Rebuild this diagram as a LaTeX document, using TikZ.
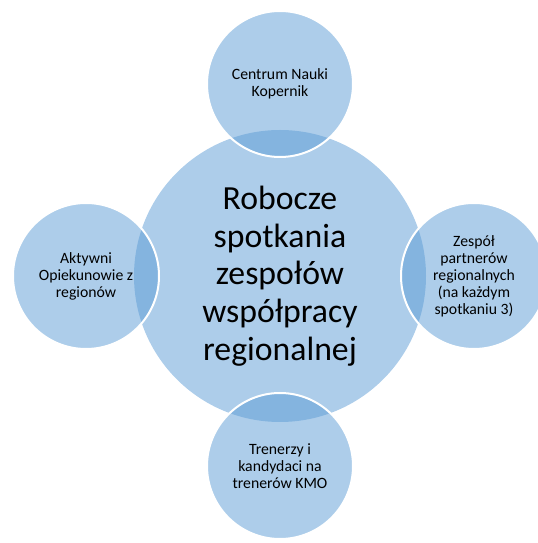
\documentclass[tikz,border=0pt]{standalone}
\usepackage{fontspec}
\setmainfont{Carlito}
\usepackage{tikz}
\usetikzlibrary{positioning}
\definecolor{disc}{RGB}{91,155,213}

\begin{document}
\begin{tikzpicture}[x=0.75pt, y=0.75pt, inner sep=0pt]
\tikzstyle{blob}=[circle, fill=disc, fill opacity=0.5, text opacity=1, align=center]
\tikzstyle{sat}=[blob, draw=white, line width=1.5pt, minimum size=109.5pt, font=\fontsize{11.8}{12.8}\selectfont]
\useasboundingbox (0,0) rectangle (537,543);
\node[blob, minimum size=219pt, font=\fontsize{25.3}{28.3}\selectfont] (hub) at (280,267) {Robocze\\spotkania\\zespołów\\współpracy\\regionalnej};
\node[sat] (cnk) at (280,459) {Centrum Nauki\\Kopernik};
\node[sat] (opiek) at (86,267) {Aktywni\\Opiekunowie z\\regionów};
\node[sat] (partn) at (474,267) {Zespół\\partnerów\\regionalnych\\(na każdym\\spotkaniu 3)};
\node[sat] (tren) at (280,77) {Trenerzy i\\kandydaci na\\trenerów KMO};
\end{tikzpicture}
\end{document}
